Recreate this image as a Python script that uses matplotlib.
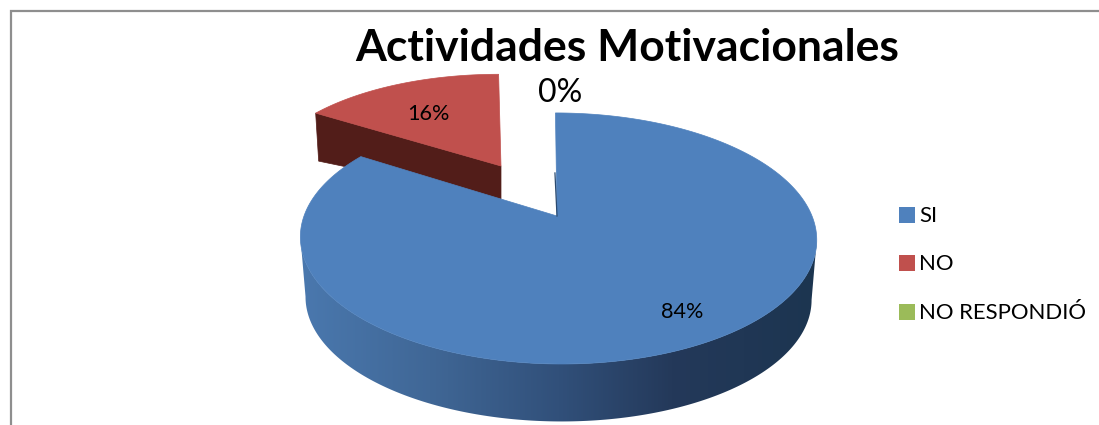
import numpy as np
import matplotlib
matplotlib.use("Agg")
import matplotlib.pyplot as plt
from matplotlib.colors import LinearSegmentedColormap
from matplotlib.patches import Polygon, Rectangle

title = "Actividades Motivacionales"
categories = ["SI", "NO", "NO RESPONDIÓ"]
values = [84, 16, 0]
pct_labels = ["84%", "16%", "0%"]
colors = ["#4F81BD", "#C0504D", "#9BBB59"]

plt.rcParams["font.family"] = ["Lato", "DejaVu Sans"]
W, H = 1099, 425
fig = plt.figure(figsize=(W / 100, H / 100), dpi=100, facecolor="white")
ax = fig.add_axes([0, 0, 1, 1])

# perspective projection of the unit pie disc
B, A, K = 0.179, 121.5, 254.0


def project(theta, cx=558.0, cy=216.0, sx=1.0, sy=1.0):
    u, v = np.sin(theta), np.cos(theta)
    d = 1 + B * v
    return cx + sx * (K * u / d - 3 * v / d), cy - sy * A * v / d


fracs = np.array(values, float) / sum(values)
edges = 2 * np.pi * np.concatenate([[0], np.cumsum(fracs)])

# frame
ax.plot([11, 11, W], [H, 11, 11], color="#8E8E8E", lw=1.6, solid_joinstyle="miter", zorder=1)

# exploded slice "NO"
t1 = np.linspace(edges[1], edges[2], 80)
rx, ry = project(t1, cx=501, cy=166, sx=0.94, sy=0.89)
tip = (rx[0], ry[0])
ax.add_patch(Polygon([(501, 166), tip, (tip[0] + 3, tip[1] + 48), (501, 199)],
                     closed=True, fc="#521D19", ec="#521D19", lw=0.5, zorder=2))
ax.add_patch(Polygon(np.vstack([[501, 166], np.column_stack([rx, ry])]),
                     closed=True, fc=colors[1], ec=colors[1], lw=0.5, zorder=3))

# main slice "SI": wall with a horizontal gradient, then the top face
t0 = np.linspace(edges[0], edges[1], 600)
x_top, y_top = project(t0)
CX, CY = 558.5, 237.0
x_bot = CX + (x_top - CX) * 0.98
y_bot = CY + (y_top - CY) * 0.98 + 60
i_r, i_l = int(np.argmax(x_top)), int(np.argmin(x_top))
wall_pts = np.vstack([np.column_stack([x_top[i_r:i_l + 1], y_top[i_r:i_l + 1]]),
                      np.column_stack([x_bot[i_r:i_l + 1], y_bot[i_r:i_l + 1]])[::-1]])
wall_cmap = LinearSegmentedColormap.from_list(
    "wall", [(0.0, "#4A78AE"), (0.25, "#406796"), (0.5, "#31507A"),
             (0.72, "#24395A"), (1.0, "#1C3550")])
grad = np.linspace(0, 1, 512)[None, :]
im = ax.imshow(grad, cmap=wall_cmap, extent=(301, 817, 425, 200), aspect="auto",
               interpolation="bilinear", zorder=4)
clip = Polygon(wall_pts, closed=True, transform=ax.transData, fc="none", ec="none")
ax.add_patch(clip)
im.set_clip_path(clip)
ax.add_patch(Polygon(np.vstack([[557, 216], np.column_stack([x_top, y_top])]),
                     closed=True, fc=colors[0], ec=colors[0], lw=0.5, zorder=5))
ax.plot([x_top[0] - 0.5, 557], [y_top[0] + 60, 216], color="#2A4A70", lw=0.9, zorder=6)

# data labels
ax.text(682, 311.5, pct_labels[0], fontsize=15.6, ha="center", va="center", color="black", zorder=7)
ax.text(428, 114, pct_labels[1], fontsize=15.6, ha="center", va="center", color="black", zorder=7)
ax.text(560, 93, pct_labels[2], fontsize=23, ha="center", va="center", color="black", zorder=7)

# title
ax.text(627.5, 48, title, fontsize=32, fontweight="bold", ha="center", va="center", color="black", zorder=7)

# legend
leg_y = [215, 263, 312]
for name, c, y in zip(categories, colors, leg_y):
    ax.add_patch(Rectangle((898.5, y - 8), 16, 16, fc=c, ec="none", zorder=7))
    ax.text(919, y + 1, name, fontsize=15.9, ha="left", va="center", color="black", zorder=7)

ax.set_xlim(0, W)
ax.set_ylim(H, 0)
ax.axis("off")
fig.savefig("out.png", dpi=100, facecolor="white")
